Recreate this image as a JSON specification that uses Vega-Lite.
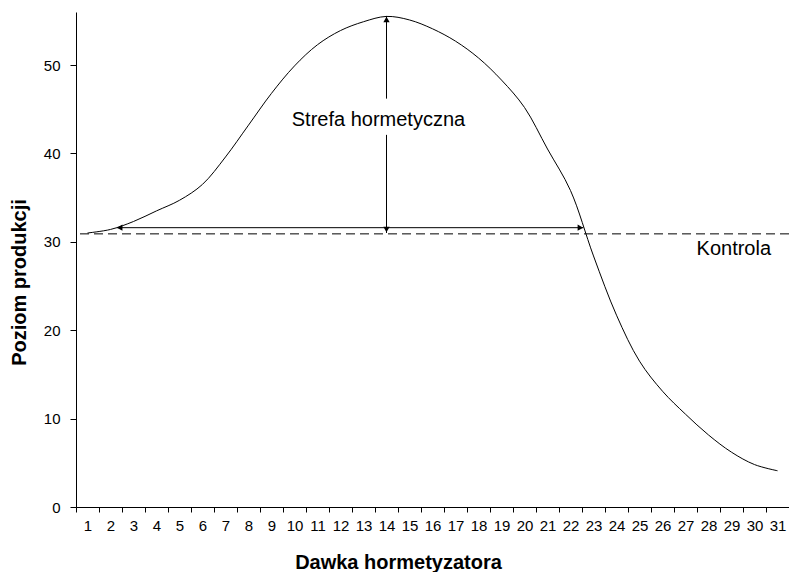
{
  "$schema": "https://vega.github.io/schema/vega-lite/v6.json",
  "width": 713,
  "height": 495,
  "autosize": {"type": "none"},
  "padding": {"left": 76, "top": 12, "right": 0, "bottom": 65},
  "background": "white",
  "config": {
    "view": {"stroke": null},
    "font": "Liberation Sans",
    "axis": {
      "domainColor": "#000",
      "tickColor": "#000",
      "labelColor": "#000",
      "titleColor": "#000",
      "grid": false,
      "labelFont": "Liberation Sans",
      "titleFont": "Liberation Sans"
    }
  },
  "datasets": {
    "curve": [
      {"x": 1, "y": 31.0}, {"x": 2, "y": 31.4}, {"x": 3, "y": 32.3}, {"x": 4, "y": 33.5},
      {"x": 5, "y": 34.7}, {"x": 6, "y": 36.5}, {"x": 7, "y": 39.6}, {"x": 8, "y": 43.2},
      {"x": 9, "y": 46.8}, {"x": 10, "y": 49.9}, {"x": 11, "y": 52.3}, {"x": 12, "y": 53.9},
      {"x": 13, "y": 54.9}, {"x": 14, "y": 55.5}, {"x": 15, "y": 55.1}, {"x": 16, "y": 54.1},
      {"x": 17, "y": 52.7}, {"x": 18, "y": 50.8}, {"x": 19, "y": 48.3}, {"x": 20, "y": 45.2},
      {"x": 21, "y": 40.5}, {"x": 22, "y": 35.8}, {"x": 23, "y": 28.4}, {"x": 24, "y": 21.7},
      {"x": 25, "y": 16.5}, {"x": 26, "y": 13.1}, {"x": 27, "y": 10.5}, {"x": 28, "y": 8.15},
      {"x": 29, "y": 6.2}, {"x": 30, "y": 4.8}, {"x": 31, "y": 4.1}
    ],
    "control": [{"y": 30.9}],
    "hArrow": [{"x": 2.27, "x2": 22.56, "y": 31.6}],
    "vArrow": [{"x": 14, "y": 55.55, "y2": 46.2}, {"x": 14, "y": 42.1, "y2": 31.0}],
    "heads": [
      {"x": 14, "y": 55.15, "dir": "up"},
      {"x": 14, "y": 31.4, "dir": "down"},
      {"x": 2.4, "y": 31.6, "dir": "left"},
      {"x": 22.43, "y": 31.6, "dir": "right"}
    ],
    "labels": [
      {"x": 13.65, "y": 43.1, "label": "Strefa hormetyczna"},
      {"x": 29.1, "y": 28.5, "label": "Kontrola"}
    ]
  },
  "layer": [
    {
      "data": {"name": "curve"},
      "mark": {"type": "line", "interpolate": "catmull-rom", "color": "#000", "strokeWidth": 1},
      "encoding": {
        "x": {
          "field": "x", "type": "quantitative",
          "scale": {"domain": [0.5, 31.5], "nice": false, "zero": false},
          "axis": {
            "title": "Dawka hormetyzatora",
            "titleFontSize": 20, "titleFontWeight": "bold",
            "titleX": 322, "titleY": 61, "titleAlign": "center", "titleBaseline": "alphabetic",
            "values": [1, 2, 3, 4, 5, 6, 7, 8, 9, 10, 11, 12, 13, 14, 15, 16, 17, 18, 19, 20, 21, 22, 23, 24, 25, 26, 27, 28, 29, 30, 31],
            "format": "d",
            "tickCount": 100,
            "tickOffset": -11.5,
            "labelOffset": 11.5,
            "tickSize": 5, "labelPadding": 6, "labelFontSize": 15, "labelAngle": 0,
            "labelOverlap": false, "labelFlush": false, "labelBound": false
          }
        },
        "y": {
          "field": "y", "type": "quantitative",
          "scale": {"domain": [0, 56], "nice": false},
          "axis": {
            "title": "Poziom produkcji",
            "titleFontSize": 20, "titleFontWeight": "bold",
            "titleX": -57, "titleY": 270, "titleAngle": -90, "titleAlign": "center", "titleBaseline": "middle",
            "values": [0, 10, 20, 30, 40, 50],
            "tickSize": 6, "labelPadding": 10, "labelFontSize": 15
          }
        }
      }
    },
    {
      "data": {"name": "control"},
      "mark": {"type": "rule", "color": "#000", "strokeWidth": 1, "strokeDash": [9, 5]},
      "encoding": {"y": {"field": "y", "type": "quantitative"}}
    },
    {
      "data": {"name": "hArrow"},
      "mark": {"type": "rule", "color": "#000", "strokeWidth": 1},
      "encoding": {
        "x": {"field": "x", "type": "quantitative"},
        "x2": {"field": "x2"},
        "y": {"field": "y", "type": "quantitative"}
      }
    },
    {
      "data": {"name": "vArrow"},
      "mark": {"type": "rule", "color": "#000", "strokeWidth": 1},
      "encoding": {
        "x": {"field": "x", "type": "quantitative"},
        "y": {"field": "y", "type": "quantitative"},
        "y2": {"field": "y2"}
      }
    },
    {
      "data": {"name": "heads"},
      "mark": {"type": "point", "filled": true, "color": "#000", "opacity": 1, "size": 40},
      "encoding": {
        "x": {"field": "x", "type": "quantitative"},
        "y": {"field": "y", "type": "quantitative"},
        "shape": {
          "field": "dir", "type": "nominal", "legend": null,
          "scale": {"domain": ["up", "down", "left", "right"], "range": ["triangle-up", "triangle-down", "triangle-left", "triangle-right"]}
        }
      }
    },
    {
      "data": {"name": "labels"},
      "mark": {"type": "text", "fontSize": 20, "color": "#000", "align": "center", "baseline": "alphabetic", "font": "Liberation Sans"},
      "encoding": {
        "x": {"field": "x", "type": "quantitative"},
        "y": {"field": "y", "type": "quantitative"},
        "text": {"field": "label"}
      }
    }
  ]
}
